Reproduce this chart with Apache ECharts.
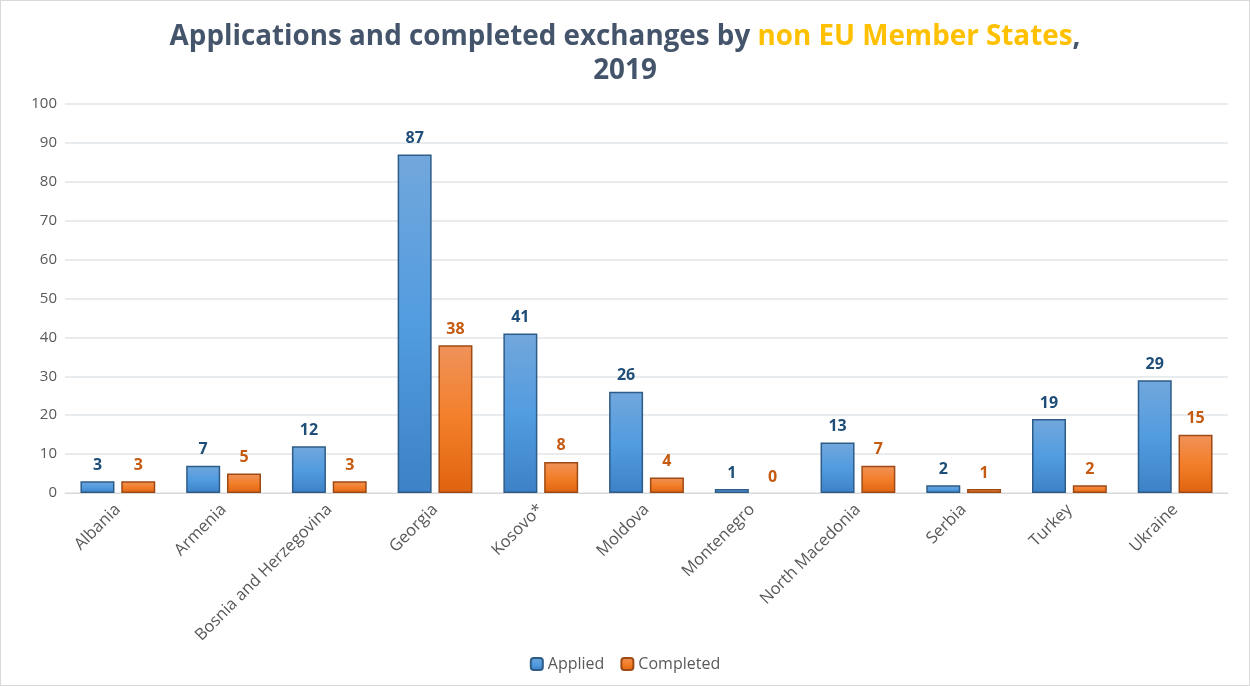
<!DOCTYPE html>
<html>
<head>
<meta charset="utf-8">
<script src="https://cdn.jsdelivr.net/npm/echarts@6/dist/echarts.min.js"></script>
<style>
  html, body { margin: 0; padding: 0; background: #fff; }
  #chart { width: 1250px; height: 686px; box-sizing: border-box; border: 1px solid #d9d9d9; }
</style>
</head>
<body>
<div id="chart"></div>
<script>
const countries = ['Albania', 'Armenia', 'Bosnia and Herzegovina', 'Georgia', 'Kosovo*', 'Moldova',
  'Montenegro', 'North Macedonia', 'Serbia', 'Turkey', 'Ukraine'];
const applied = [3, 7, 12, 87, 41, 26, 1, 13, 2, 19, 29];
const completed = [3, 5, 3, 38, 8, 4, 0, 7, 1, 2, 15];

const chart = echarts.init(document.getElementById('chart'));

const font = '"Open Sans", "Liberation Sans", sans-serif';

// zero-height bars get no outline, like the original (label stays)
const withZeroHidden = arr => arr.map(v => v === 0 ? { value: v, itemStyle: { borderWidth: 0, color: 'rgba(0,0,0,0)' } } : v);

const option = {
  textStyle: { fontFamily: font },
  title: {
    left: 'center',
    top: 14,
    text: '{a|Applications and completed exchanges by }{b|non EU Member States}{a|,}\n{a|2019}',
    textStyle: {
      rich: {
        a: { fontSize: 27.8, fontWeight: 'bold', color: '#44546A', fontFamily: font, lineHeight: 34 },
        b: { fontSize: 27.8, fontWeight: 'bold', color: '#FFC000', fontFamily: font, lineHeight: 34 }
      }
    }
  },
  legend: {
    bottom: 8,
    itemWidth: 12,
    itemHeight: 12,
    itemGap: 16,
    textStyle: { fontSize: 16, color: '#595959', fontFamily: font },
    data: ['Applied', 'Completed']
  },
  grid: {
    left: 64,
    right: 21,
    top: 103,
    bottom: 192
  },
  xAxis: {
    type: 'category',
    data: countries,
    axisLine: { lineStyle: { color: '#d9d9d9' } },
    axisTick: { show: false },
    axisLabel: {
      rotate: 45,
      interval: 0,
      fontSize: 16.5,
      color: '#595959',
      margin: 14
    }
  },
  yAxis: {
    type: 'value',
    min: 0,
    max: 100,
    interval: 10,
    axisLine: { show: false },
    axisTick: { show: false },
    axisLabel: { fontSize: 15, color: '#595959', margin: 8 },
    splitLine: { lineStyle: { color: '#e2e6ea', width: 1.5 } }
  },
  series: [
    {
      name: 'Applied',
      type: 'bar',
      data: applied,
      barWidth: 34,
      barGap: '20%',
      itemStyle: {
        color: new echarts.graphic.LinearGradient(0, 0, 0, 1, [
          { offset: 0, color: '#72a7dc' },
          { offset: 0.5, color: '#529ce0' },
          { offset: 1, color: '#3d81c6' }
        ]),
        borderColor: '#2e5c88',
        borderWidth: 1.5
      },
      label: {
        show: true,
        position: 'top',
        distance: 8,
        fontSize: 16,
        fontWeight: 'bold',
        color: '#1F4E79'
      }
    },
    {
      name: 'Completed',
      type: 'bar',
      data: withZeroHidden(completed),
      barWidth: 34,
      itemStyle: {
        color: new echarts.graphic.LinearGradient(0, 0, 0, 1, [
          { offset: 0, color: '#f0925a' },
          { offset: 0.5, color: '#f37f2a' },
          { offset: 1, color: '#e0630f' }
        ]),
        borderColor: '#9e4a14',
        borderWidth: 1.5
      },
      label: {
        show: true,
        position: 'top',
        distance: 8,
        fontSize: 16,
        fontWeight: 'bold',
        color: '#C55A11'
      }
    }
  ]
};

chart.setOption(option);
</script>
</body>
</html>
